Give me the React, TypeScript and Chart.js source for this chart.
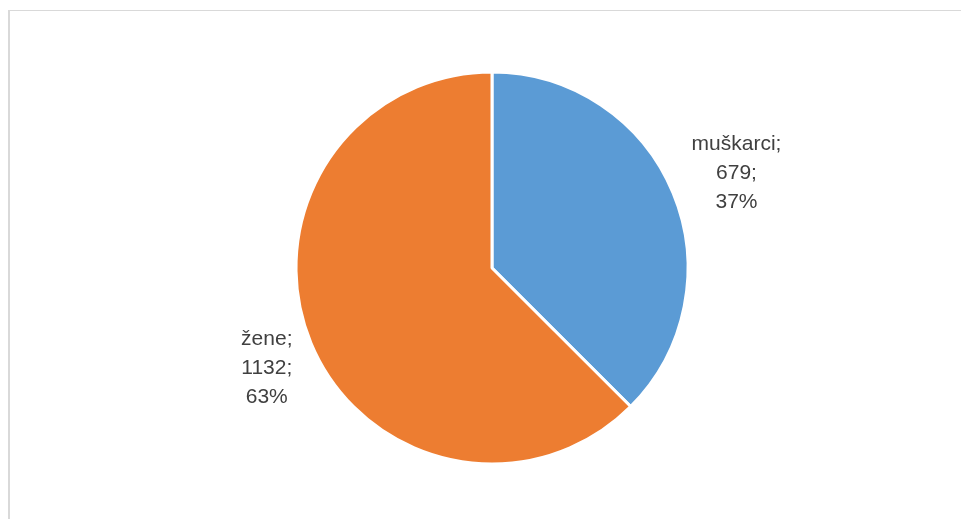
import React, { useEffect, useRef } from "react";
import { Chart, registerables } from "chart.js";

Chart.register(...registerables);

const categories = ["muškarci", "žene"];
const values = [679, 1132];
const colors = ["#5B9BD5", "#ED7D31"];

const labelPlugin = {
  id: "excelLabels",
  afterDatasetsDraw(chart: any) {
    const ctx = chart.ctx;
    const meta = chart.getDatasetMeta(0);
    const data = chart.data.datasets[0].data as number[];
    const total = data.reduce((a, b) => a + b, 0);
    const lineH = 29;
    const gap = 20;
    const yShift = 7;
    ctx.save();
    ctx.font = '21px "Liberation Sans", Arial, sans-serif';
    ctx.fillStyle = "#404040";
    ctx.textAlign = "center";
    ctx.textBaseline = "middle";
    meta.data.forEach((arc: any, i: number) => {
      const p = arc.getProps(["x", "y", "startAngle", "endAngle", "outerRadius"], true);
      const mid = (p.startAngle + p.endAngle) / 2;
      const dx = Math.cos(mid);
      const dy = Math.sin(mid);
      const lines = [
        chart.data.labels[i] + ";",
        String(data[i]) + ";",
        Math.round((data[i] / total) * 100) + "%",
      ];
      const w = Math.max(...lines.map((l) => ctx.measureText(l).width));
      const h = lines.length * lineH;
      const tx = Math.abs(dx) > 1e-6 ? w / 2 / Math.abs(dx) : Infinity;
      const ty = Math.abs(dy) > 1e-6 ? h / 2 / Math.abs(dy) : Infinity;
      const t = Math.min(tx, ty);
      const d = p.outerRadius + gap + t;
      const cx = p.x + dx * d;
      const cy = p.y + dy * d + yShift;
      lines.forEach((l, k) => {
        ctx.fillText(l, cx, cy + (k - (lines.length - 1) / 2) * lineH);
      });
    });
    ctx.restore();
  },
};

export default function App() {
  const ref = useRef<HTMLCanvasElement | null>(null);
  useEffect(() => {
    if (!ref.current) return;
    const chart = new Chart(ref.current, {
      type: "pie",
      data: {
        labels: categories,
        datasets: [
          {
            data: values,
            backgroundColor: colors,
            borderColor: "#ffffff",
            borderWidth: 3,
          },
        ],
      },
      options: {
        responsive: false,
        animation: false,
        radius: 196,
        layout: { padding: { left: 282, right: 269, top: 57, bottom: 51 } },
        plugins: {
          legend: { display: false },
          tooltip: { enabled: false },
        },
      } as any,
      plugins: [labelPlugin],
    });
    return () => chart.destroy();
  }, []);
  return (
    <div
      style={{
        position: "absolute",
        left: 8,
        top: 10,
        width: 953,
        height: 509,
        boxSizing: "border-box",
        borderLeft: "2px solid #d9d9d9",
        borderTop: "1px solid #d9d9d9",
        background: "#fff",
      }}
    >
      <canvas ref={ref} width={951} height={508} style={{ display: "block" }} />
    </div>
  );
}
